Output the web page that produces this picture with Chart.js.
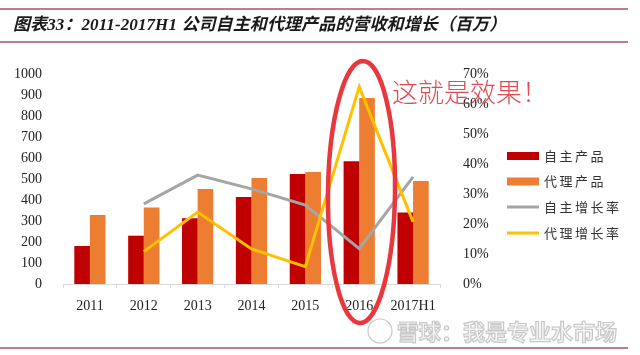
<!DOCTYPE html>
<html>
<head>
<meta charset="utf-8">
<script src="https://cdn.jsdelivr.net/npm/chart.js@4/dist/chart.umd.min.js"></script>
<style>
html,body{margin:0;padding:0;background:#fff;}
#wrap{position:relative;width:640px;height:355px;}
</style>
</head>
<body>
<div id="wrap"><canvas id="c" width="640" height="355"></canvas></div>
<script>
const categories = ['2011','2012','2013','2014','2015','2016','2017H1'];
const ownProducts = [181, 230, 313, 414, 524, 584, 341];
const agentProducts = [329, 364, 452, 505, 533, 886, 491];
const ownGrowth = [null, 26.7, 36.3, 31.7, 26.3, 11.8, 35.7];
const agentGrowth = [null, 10.8, 24.0, 11.7, 5.8, 65.7, 20.7];
const leftTicks = [0,100,200,300,400,500,600,700,800,900,1000];
const rightTicks = [0,10,20,30,40,50,60,70];
const titleText = '图表33：2011-2017H1 公司自主和代理产品的营收和增长（百万）';
const noteText = '这就是效果！';
const watermarkText = '雪球：我是专业水市场';

const serif = '"Liberation Serif","Times New Roman",serif';
const cjk = '"Noto Sans CJK SC","Liberation Serif",sans-serif';

const decor = {
  id: 'decor',
  beforeDraw(chart) {
    const ctx = chart.ctx;
    ctx.save();
    ctx.fillStyle = '#fff';
    ctx.fillRect(0, 0, chart.width, chart.height);
    ctx.strokeStyle = '#a8506a';
    ctx.lineWidth = 1.3;
    [9, 42, 348].forEach(y => {
      ctx.beginPath(); ctx.moveTo(0, y); ctx.lineTo(628, y); ctx.stroke();
    });
    ctx.fillStyle = '#1a1a1a';
    ctx.font = 'italic bold 17px "Liberation Serif","Noto Sans CJK SC",serif';
    ctx.textBaseline = 'middle';
    ctx.textAlign = 'left';
    ctx.letterSpacing = '0.1px';
    ctx.fillText(titleText, 13, 26);
    ctx.letterSpacing = '0px';
    ctx.restore();
  },
  afterDraw(chart) {
    const ctx = chart.ctx;
    ctx.save();
    const rows = [156, 181.5, 207, 233];
    ctx.font = '13px ' + cjk;
    ctx.textBaseline = 'middle';
    ctx.textAlign = 'left';
    chart.data.datasets.forEach((ds, i) => {
      const y = rows[i];
      if (ds.type === 'line') {
        ctx.strokeStyle = ds.borderColor;
        ctx.lineWidth = 3;
        ctx.beginPath(); ctx.moveTo(507, y); ctx.lineTo(539, y); ctx.stroke();
      } else {
        ctx.fillStyle = ds.backgroundColor;
        ctx.fillRect(507, y - 4, 32, 8);
      }
      ctx.fillStyle = '#333';
      ctx.letterSpacing = '2.5px';
      ctx.fillText(ds.label, 544, y);
      ctx.letterSpacing = '0px';
    });
    ctx.strokeStyle = '#e8383d';
    ctx.lineWidth = 4.5;
    ctx.beginPath();
    ctx.ellipse(361.5, 192, 33.5, 131, 0.012, 0, Math.PI * 2);
    ctx.stroke();
    ctx.fillStyle = '#e04a52';
    ctx.font = '300 26px ' + cjk;
    ctx.textBaseline = 'middle';
    ctx.fillText(noteText, 392, 92);
    ctx.strokeStyle = '#c8c8c8';
    ctx.lineWidth = 1.2;
    ctx.beginPath(); ctx.arc(380, 331, 12, 0, Math.PI * 2); ctx.stroke();
    ctx.font = 'bold 22px ' + cjk;
    ctx.fillStyle = '#f6f6f6';
    ctx.fillText(watermarkText, 397, 332);
    ctx.strokeText(watermarkText, 397, 332);
    ctx.restore();
  }
};

new Chart(document.getElementById('c'), {
  data: {
    labels: categories,
    datasets: [
      { type: 'bar', label: '自主产品', data: ownProducts, backgroundColor: '#c00000', yAxisID: 'y', order: 2,
        categoryPercentage: 0.58, barPercentage: 1 },
      { type: 'bar', label: '代理产品', data: agentProducts, backgroundColor: '#ed7d31', yAxisID: 'y', order: 2,
        categoryPercentage: 0.58, barPercentage: 1 },
      { type: 'line', label: '自主增长率', data: ownGrowth, borderColor: '#a5a5a5', backgroundColor: '#a5a5a5',
        borderWidth: 3, pointRadius: 0, yAxisID: 'y1', order: 1, tension: 0 },
      { type: 'line', label: '代理增长率', data: agentGrowth, borderColor: '#ffc000', backgroundColor: '#ffc000',
        borderWidth: 3, pointRadius: 0, yAxisID: 'y1', order: 0, tension: 0 }
    ]
  },
  options: {
    responsive: false,
    animation: false,
    devicePixelRatio: 1,
    layout: { padding: { top: 74, left: 0, right: 0, bottom: 0 } },
    plugins: { legend: { display: false }, tooltip: { enabled: false } },
    scales: {
      x: {
        offset: true,
        grid: { display: true, drawOnChartArea: false, drawTicks: true, tickLength: 4, offset: true, color: '#d9d9d9' },
        border: { display: true, color: '#d9d9d9' },
        ticks: { color: '#222', font: { family: serif, size: 14 }, padding: 10, maxRotation: 0 },
        afterFit(s) { s.height = 71; }
      },
      y: {
        position: 'left', min: 0, max: 1000,
        afterBuildTicks(s) { s.ticks = leftTicks.map(v => ({ value: v })); },
        grid: { display: false },
        border: { display: false },
        ticks: { color: '#222', font: { family: serif, size: 14 }, padding: 13, callback: v => String(v) },
        afterFit(s) { s.width = 63; }
      },
      y1: {
        position: 'right', min: 0, max: 70,
        afterBuildTicks(s) { s.ticks = rightTicks.map(v => ({ value: v })); },
        grid: { display: false },
        border: { display: false },
        ticks: { color: '#222', font: { family: serif, size: 14 }, padding: 15, callback: v => v + '%' },
        afterFit(s) { s.width = 200; }
      }
    }
  },
  plugins: [decor]
});
</script>
</body>
</html>
